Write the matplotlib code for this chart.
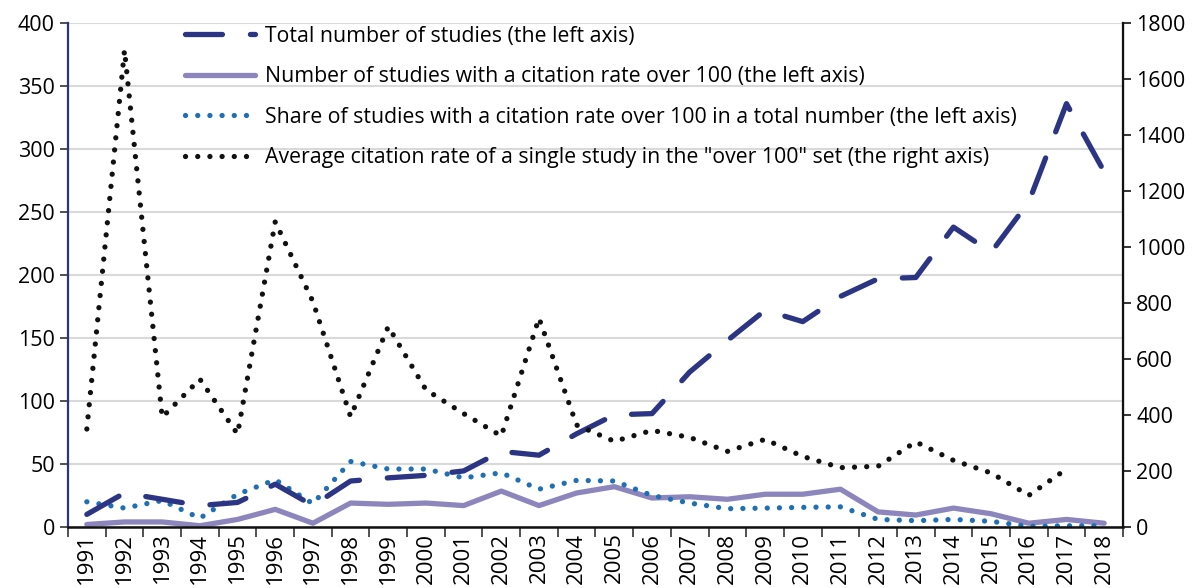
import numpy as np
import matplotlib
matplotlib.use('Agg')
import matplotlib.pyplot as plt
from matplotlib.ticker import MultipleLocator

plt.rcParams['font.family'] = ['Open Sans', 'DejaVu Sans']

# Data
years = list(range(1991, 2019))
total = [10, 27, 22, 17, 19.5, 34, 17, 36.5, 39, 41, 44.5, 60, 57, 74, 89, 90,
         123, 148, 172, 163, 183, 197, 198, 238, 218, 258, 336, 282]
over100 = [2, 4, 4, 1, 6, 14, 3, 19, 18, 19, 17, 28.5, 17, 27, 32, 23,
           24, 22, 26, 26, 30, 12, 9.5, 15, 10.5, 3, 6, 3]
share = [20, 15, 21, 7, 26, 37.5, 18.5, 52, 46, 46, 39, 43, 30, 37, 36.5, 25,
         19, 14.5, 15, 15.6, 16, 6, 5, 6, 4.5, 0.5, 1, 1]
avg_cit = [350, 1703, 392, 528, 332, 1090, 805, 394, 716, 490, 405, 325, 746, 364,
           306, 345, 320, 270, 313, 252, 212, 217, 304, 238, 193, 113, 207, np.nan]

labels = ['Total number of studies (the left axis)',
          'Number of studies with a citation rate over 100 (the left axis)',
          'Share of studies with a citation rate over 100 in a total number (the left axis)',
          'Average citation rate of a single study in the "over 100" set (the right axis)']

x = np.arange(len(years))

fig = plt.figure(figsize=(12.01, 5.88), dpi=100)
ax = fig.add_axes([68 / 1201, 1 - 527 / 588, (1123 - 68) / 1201, (527 - 23) / 588])
ax2 = ax.twinx()

l1, = ax.plot(x, total, color='#2b3584', lw=3.8, dashes=(7, 5.3),
              dash_capstyle='round', label=labels[0], zorder=3)
l2, = ax.plot(x, over100, color='#8c86bd', lw=3.8, solid_capstyle='round',
              label=labels[1], zorder=2)
l3, = ax.plot(x, share, color='#1f6fb5', lw=3.8, dashes=(0.01, 2.3),
              dash_capstyle='round', label=labels[2], zorder=2)
l4, = ax2.plot(x, avg_cit, color='#111111', lw=3.8, dashes=(0.01, 2.3),
               dash_capstyle='round', label=labels[3], zorder=2)

ax.set_ylim(0, 400)
ax2.set_ylim(0, 1800)
ax.set_xlim(-0.5, len(years) - 0.5)
ax.yaxis.set_major_locator(MultipleLocator(50))
ax2.yaxis.set_major_locator(MultipleLocator(200))

ax.grid(axis='y', color='#d9d9d9', lw=1.5)
ax.set_axisbelow(True)

ax.set_xticks(x)
ax.set_xticklabels([str(y) for y in years], rotation=90, fontsize=16)
ax.set_xticks(np.arange(-0.5, len(years), 1), minor=True)
ax.tick_params(axis='x', which='major', length=0, pad=4)
ax.tick_params(axis='x', which='minor', length=7, width=1.2, color='#333333')
ax.tick_params(axis='y', labelsize=15.5, length=6, width=1.2, color='#333333')
ax2.tick_params(axis='y', labelsize=15.5, length=6, width=1.2, color='#111111')

ax.spines['top'].set_visible(False)
ax2.spines['top'].set_visible(False)
ax.spines['left'].set_color('#2b3584')
ax.spines['left'].set_linewidth(1.6)
ax.spines['bottom'].set_color('#111111')
ax.spines['bottom'].set_linewidth(1.8)
ax2.spines['right'].set_color('#111111')
ax2.spines['right'].set_linewidth(1.6)
ax2.spines['left'].set_visible(False)
ax2.spines['bottom'].set_visible(False)

leg = ax.legend(handles=[l1, l2, l3, l4], loc='upper left',
                bbox_to_anchor=(0.111, 0.995), frameon=False, fontsize=15.3,
                handlelength=3.3, handletextpad=0.45, labelspacing=0.92,
                borderaxespad=0, borderpad=0)
leg.set_zorder(5)

fig.savefig('out.png', dpi=100)
